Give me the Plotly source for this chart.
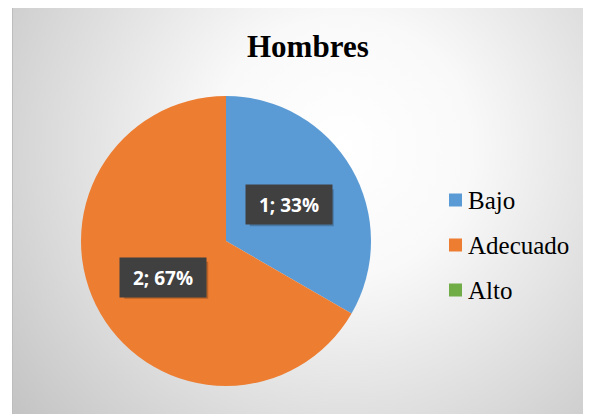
"""Pie chart: Hombres, distribution by category."""

import base64
import math

import plotly.graph_objects as go

labels = ["Bajo", "Adecuado", "Alto"]
values = [1, 2, 0]
colors = ["#5B9BD5", "#ED7D31", "#70AD47"]
title = "Hombres"

# the page body adds an 8px margin, so the figure is drawn 8px in
OFF = 8
W, H = 591 - OFF, 414 - OFF


def fx(px):
    return (px - OFF) / W


def fy(py):
    return 1 - (py - OFF) / H


# pie geometry in screen pixels
cx, cy, r = 226, 241, 145

# radial gradient background for the chart area
bw, bh = 591 - 12, 414 - 7
svg = f"""<svg xmlns='http://www.w3.org/2000/svg' width='{bw}' height='{bh}'>
<defs><radialGradient id='g' cx='330' cy='140' r='430' gradientUnits='userSpaceOnUse'>
<stop offset='0' stop-color='#ffffff'/>
<stop offset='0.3' stop-color='#f9f9f9'/>
<stop offset='1' stop-color='#c2c2c2'/>
</radialGradient></defs>
<rect width='{bw}' height='{bh}' fill='url(#g)'/>
</svg>"""
bg_src = "data:image/svg+xml;base64," + base64.b64encode(svg.encode()).decode()

fig = go.Figure()

fig.add_trace(
    go.Pie(
        labels=labels,
        values=values,
        marker={"colors": colors, "line": {"width": 0}},
        sort=False,
        direction="clockwise",
        rotation=0,
        textinfo="none",
        hoverinfo="label+value+percent",
        showlegend=False,
        domain={
            "x": [fx(cx - r), fx(cx + r)],
            "y": [fy(cy + r), fy(cy - r)],
        },
    )
)

# data labels in dark boxes, placed at the middle angle of each slice
bx, by = 84, 37
total = sum(values)
start = 0.0
for lab, val in zip(labels, values):
    if val == 0:
        continue
    frac = val / total
    mid = (start + frac / 2) * 2 * math.pi
    start += frac
    px = cx + 0.5 * r * math.sin(mid)
    py = cy - 0.5 * r * math.cos(mid)
    # soft shadow behind the box
    fig.add_shape(
        type="rect", xref="paper", yref="paper", layer="above",
        x0=fx(px - bx / 2 + 3), x1=fx(px + bx / 2 + 3),
        y0=fy(py + by / 2 + 3), y1=fy(py - by / 2 + 3),
        fillcolor="rgba(0,0,0,0.22)", line={"width": 0},
    )
    fig.add_annotation(
        x=fx(px), y=fy(py), xref="paper", yref="paper",
        xanchor="center", yanchor="middle",
        text=f"<b>{val}; {round(frac * 100)}%</b>",
        showarrow=False, width=bx, height=by,
        bgcolor="#404040",
        font={"family": "Open Sans", "color": "white", "size": 19},
    )

# manual legend
leg_x, leg_y0, leg_gap = 449, 200, 45
for i, (lab, col) in enumerate(zip(labels, colors)):
    yy = leg_y0 + i * leg_gap
    fig.add_shape(
        type="rect", xref="paper", yref="paper",
        x0=fx(leg_x), x1=fx(leg_x + 13),
        y0=fy(yy + 6.5), y1=fy(yy - 6.5),
        fillcolor=col, line={"width": 0},
    )
    fig.add_annotation(
        x=fx(leg_x + 17), y=fy(yy), xref="paper", yref="paper",
        text=lab, showarrow=False, xanchor="left", yanchor="middle",
        font={"family": "Liberation Serif", "size": 25, "color": "#000000"},
    )

fig.add_annotation(
    x=fx(308), y=fy(46), xref="paper", yref="paper",
    text=f"<b>{title}</b>", showarrow=False, xanchor="center", yanchor="middle",
    font={"family": "Liberation Serif", "size": 31, "color": "#000000"},
)

# chart area border
fig.add_shape(
    type="rect", xref="paper", yref="paper",
    x0=fx(12.5), x1=1.2, y0=-0.2, y1=fy(7.5),
    line={"color": "#bdbdbd", "width": 1}, fillcolor="rgba(0,0,0,0)",
)

fig.update_layout(
    width=W,
    height=H,
    margin={"l": 0, "r": 0, "t": 0, "b": 0},
    paper_bgcolor="white",
    plot_bgcolor="white",
    images=[
        {
            "source": bg_src, "xref": "paper", "yref": "paper",
            "x": fx(12), "y": fy(7), "sizex": bw / W, "sizey": bh / H,
            "sizing": "stretch", "layer": "below",
            "xanchor": "left", "yanchor": "top",
        }
    ],
)

fig.write_html("out.html")
